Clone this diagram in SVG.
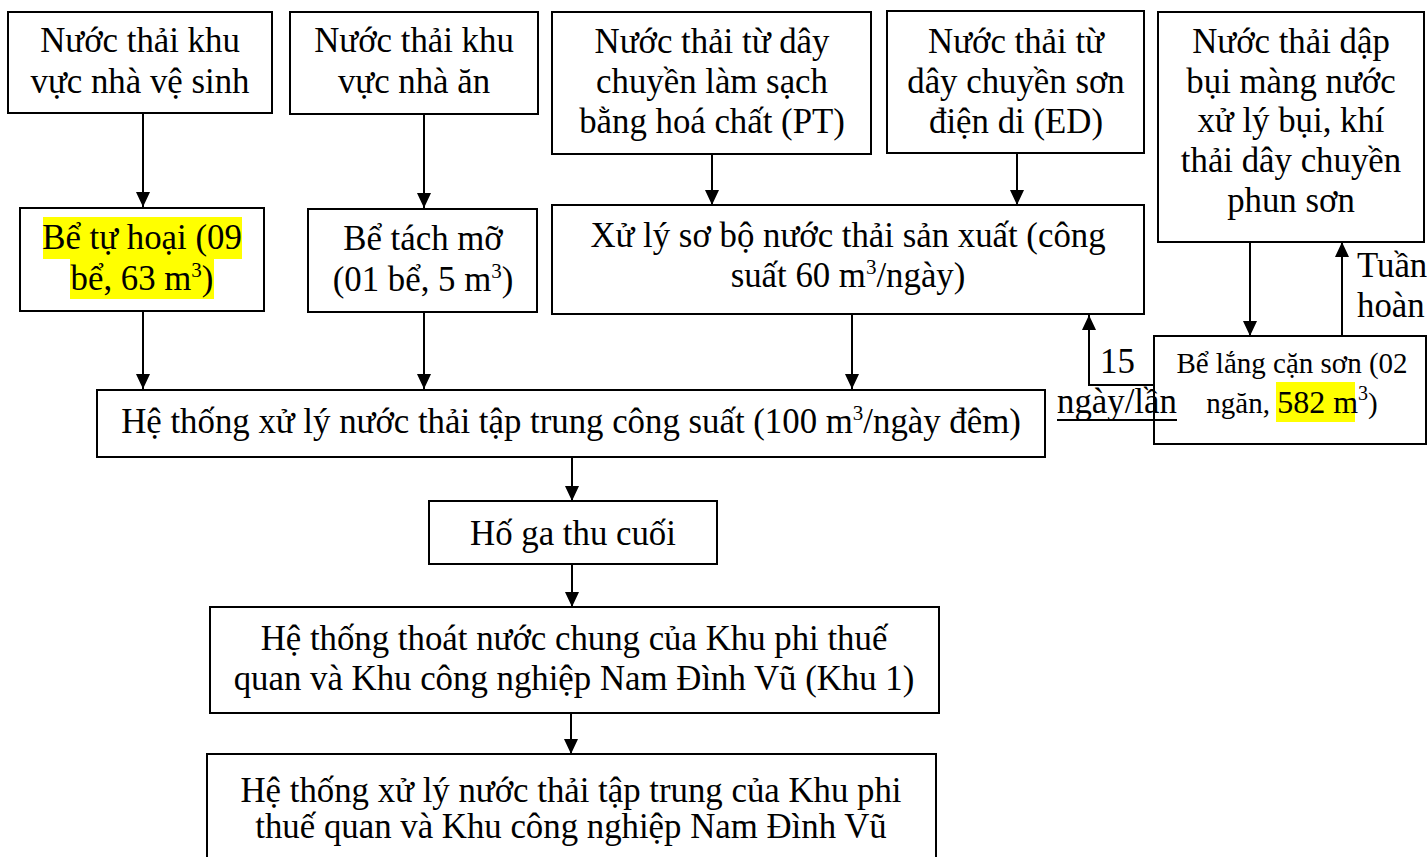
<svg xmlns="http://www.w3.org/2000/svg" width="1427" height="857" viewBox="0 0 1427 857">
<style>
.box{fill:#fff;stroke:#000;stroke-width:2}
.t{font-family:"Liberation Serif","Times New Roman",serif;font-size:34.8px;fill:#000;text-anchor:middle}
.s{font-family:"Liberation Serif","Times New Roman",serif;font-size:34.8px;fill:#000}
.sm{font-family:"Liberation Serif","Times New Roman",serif;font-size:29px;fill:#000;text-anchor:middle}
.hl{fill:#ffff00}
.c{fill:none;stroke:#000;stroke-width:2}
</style>
<defs>
<marker id="ah" markerUnits="userSpaceOnUse" markerWidth="16" markerHeight="16" viewBox="0 0 16 16" refX="15" refY="8" orient="auto">
<path d="M0,1 L15,8 L0,15 Z" fill="#000"/>
</marker>
</defs>
<rect width="1427" height="857" fill="#fff"/>

<g id="n1">
<rect class="box" x="8" y="12" width="264" height="101"/>
<text class="t" x="140" y="52">Nước thải khu</text>
<text class="t" x="140" y="93">vực nhà vệ sinh</text>
</g>
<g id="n2">
<rect class="box" x="290" y="12" width="248" height="102"/>
<text class="t" x="414" y="52">Nước thải khu</text>
<text class="t" x="414" y="93">vực nhà ăn</text>
</g>
<g id="n3">
<rect class="box" x="552" y="12" width="319" height="142"/>
<text class="t" x="712" y="53">Nước thải từ dây</text>
<text class="t" x="712" y="93">chuyền làm sạch</text>
<text class="t" x="712" y="133">bằng hoá chất (PT)</text>
</g>
<g id="n4">
<rect class="box" x="887" y="11" width="257" height="142"/>
<text class="t" x="1016" y="53">Nước thải từ</text>
<text class="t" x="1016" y="93">dây chuyền sơn</text>
<text class="t" x="1016" y="133">điện di (ED)</text>
</g>
<g id="n5">
<rect class="box" x="1158" y="12" width="266" height="230"/>
<text class="t" x="1291" y="53">Nước thải dập</text>
<text class="t" x="1291" y="93">bụi màng nước</text>
<text class="t" x="1291" y="132">xử lý bụi, khí</text>
<text class="t" x="1291" y="172">thải dây chuyền</text>
<text class="t" x="1291" y="212">phun sơn</text>
</g>
<g id="n6">
<rect class="box" x="20" y="208" width="244" height="103"/>
<rect class="hl" x="43" y="217" width="199" height="42"/>
<rect class="hl" x="70" y="259" width="144" height="40"/>
<text class="t" x="142" y="249">Bể tự hoại (09</text>
<text class="t" x="142" y="290">bể, 63 m<tspan dy="-13" font-size="21">3</tspan><tspan dy="13">)</tspan></text>
</g>
<g id="n7">
<rect class="box" x="308" y="209" width="229" height="103"/>
<text class="t" x="423" y="250">Bể tách mỡ</text>
<text class="t" x="423" y="291">(01 bể, 5 m<tspan dy="-13" font-size="21">3</tspan><tspan dy="13">)</tspan></text>
</g>
<g id="n8">
<rect class="box" x="552" y="205" width="592" height="109"/>
<text class="t" x="848" y="247">Xử lý sơ bộ nước thải sản xuất (công</text>
<text class="t" x="848" y="287">suất 60 m<tspan dy="-13" font-size="21">3</tspan><tspan dy="13">/ngày)</tspan></text>
</g>
<g id="n9">
<rect class="box" x="1154" y="336" width="272" height="108"/>
<rect class="hl" x="1276" y="382" width="79" height="40"/>
<text class="sm" x="1292" y="373">Bể lắng cặn sơn (02</text>
<text class="sm" x="1292" y="413">ngăn, <tspan font-size="32">582 m</tspan><tspan dy="-13" font-size="20">3</tspan><tspan dy="13">)</tspan></text>
</g>
<g id="n10">
<rect class="box" x="97" y="390" width="948" height="67"/>
<text class="t" x="571" y="433">Hệ thống xử lý nước thải tập trung công suất (100 m<tspan dy="-13" font-size="21">3</tspan><tspan dy="13">/ngày đêm)</tspan></text>
</g>
<g id="n11">
<rect class="box" x="429" y="501" width="288" height="63"/>
<text class="t" x="573" y="545">Hố ga thu cuối</text>
</g>
<g id="n12">
<rect class="box" x="210" y="607" width="729" height="106"/>
<text class="t" x="574" y="650">Hệ thống thoát nước chung của Khu phi thuế</text>
<text class="t" x="574" y="690">quan và Khu công nghiệp Nam Đình Vũ (Khu 1)</text>
</g>
<g id="n13">
<rect class="box" x="207" y="754" width="729" height="120"/>
<text class="t" x="571" y="802">Hệ thống xử lý nước thải tập trung của Khu phi</text>
<text class="t" x="571" y="838">thuế quan và Khu công nghiệp Nam Đình Vũ</text>
</g>

<g id="connectors">
<line class="c" x1="143" y1="113" x2="143" y2="207" marker-end="url(#ah)"/>
<line class="c" x1="424" y1="114" x2="424" y2="208" marker-end="url(#ah)"/>
<line class="c" x1="712" y1="154" x2="712" y2="205" marker-end="url(#ah)"/>
<line class="c" x1="1017" y1="153" x2="1017" y2="205" marker-end="url(#ah)"/>
<line class="c" x1="143" y1="311" x2="143" y2="389" marker-end="url(#ah)"/>
<line class="c" x1="424" y1="312" x2="424" y2="389" marker-end="url(#ah)"/>
<line class="c" x1="852" y1="314" x2="852" y2="389" marker-end="url(#ah)"/>
<line class="c" x1="572" y1="457" x2="572" y2="501" marker-end="url(#ah)"/>
<line class="c" x1="572" y1="564" x2="572" y2="607" marker-end="url(#ah)"/>
<line class="c" x1="571" y1="713" x2="571" y2="754" marker-end="url(#ah)"/>
<line class="c" x1="1250" y1="242" x2="1250" y2="336" marker-end="url(#ah)"/>
<line class="c" x1="1342" y1="336" x2="1342" y2="242" marker-end="url(#ah)"/>
<polyline class="c" points="1154,385 1089,385 1089,315" marker-end="url(#ah)"/>
<text class="s" x="1100" y="373">15</text>
<text class="s" x="1057" y="413">ngày/lần</text>
<line x1="1057" y1="420" x2="1177" y2="420" stroke="#000" stroke-width="2"/>
<text class="s" x="1357" y="277">Tuần</text>
<text class="s" x="1357" y="317">hoàn</text>
</g>
</svg>
